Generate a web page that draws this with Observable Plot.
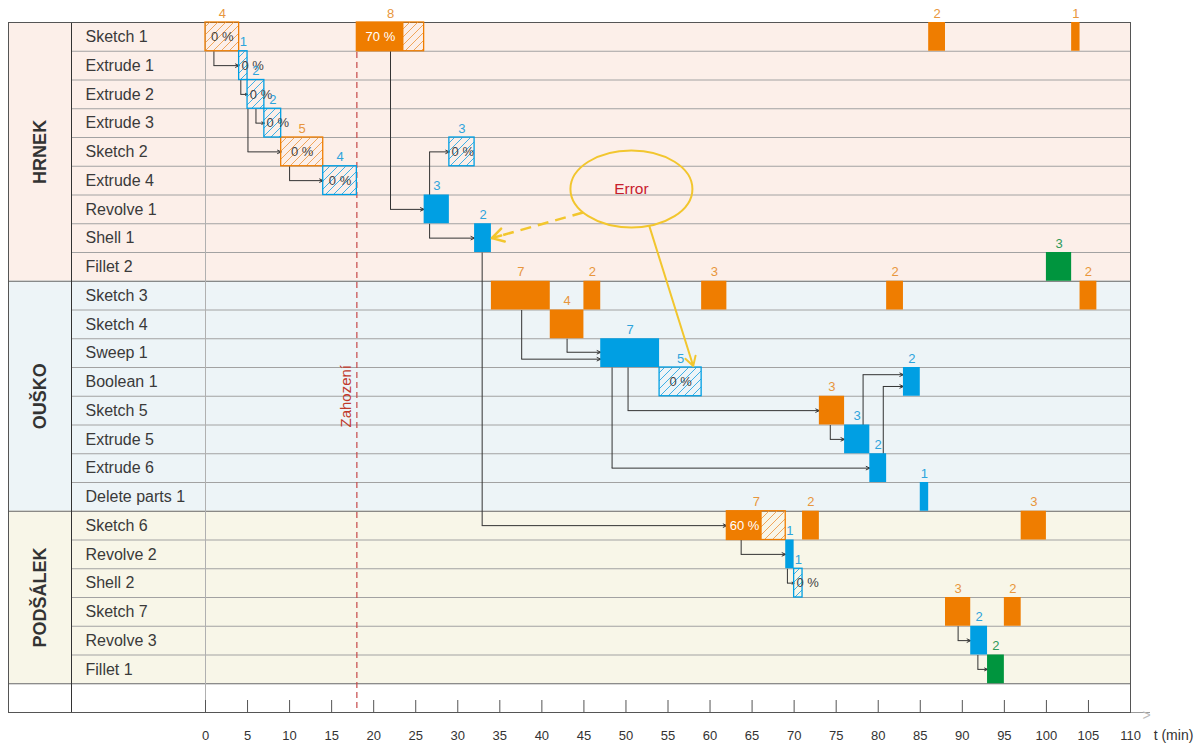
<!DOCTYPE html>
<html>
<head>
<meta charset="utf-8">
<script src="https://cdn.jsdelivr.net/npm/d3@7"></script>
<script src="https://cdn.jsdelivr.net/npm/@observablehq/plot@0.6"></script>
<style>
  body { margin: 0; background: #fff; }
  #chart svg { display: block; }
</style>
</head>
<body>
<div id="chart"></div>
<script>
// ---- categories ----
const ops = ["Sketch 1","Extrude 1","Extrude 2","Extrude 3","Sketch 2","Extrude 4","Revolve 1","Shell 1","Fillet 2",
  "Sketch 3","Sketch 4","Sweep 1","Boolean 1","Sketch 5","Extrude 5","Extrude 6","Delete parts 1",
  "Sketch 6","Revolve 2","Shell 2","Sketch 7","Revolve 3","Fillet 1"];
const groupNames = ["HRNEK","OUŠKO","PODŠÁLEK"];
const groupSizes = [9, 8, 6];

// ---- bars (minutes) ----
const barOp = ["Sketch 1","Sketch 1","Sketch 1","Sketch 1","Extrude 1","Extrude 2","Extrude 3","Sketch 2","Sketch 2","Extrude 4",
  "Revolve 1","Shell 1","Fillet 2","Sketch 3","Sketch 3","Sketch 3","Sketch 3","Sketch 3","Sketch 4","Sweep 1",
  "Boolean 1","Boolean 1","Sketch 5","Extrude 5","Extrude 6","Delete parts 1","Sketch 6","Sketch 6","Sketch 6",
  "Revolve 2","Shell 2","Sketch 7","Sketch 7","Revolve 3","Fillet 1"];
const barStart = [0,18,86,103,4,5,7,9,29,14, 26,32,100,34,45,59,81,104,41,47, 54,83,73,76,79,85,62,71,97, 69,70,88,95,91,93];
const barDur   = [4,8,2,1,1,2,2,5,3,4, 3,2,3,7,2,3,2,2,4,7, 5,2,3,3,2,1,7,2,3, 1,1,3,2,2,2];
const barKind  = ["s","s","s","s","f","f","f","s","f","f", "f","f","g","s","s","s","s","s","s","f",
  "f","f","s","f","f","f","s","s","s", "f","f","s","s","f","g"];
const barDone  = [0,0.7,1,1,0,0,0,0,0,0, 1,1,1,1,1,1,1,1,1,1, 0,1,1,1,1,1,0.6,1,1, 1,0,1,1,1,1];

// ---- dependency arrows ----
const linkFrom = ["Sketch 1","Extrude 1","Extrude 2","Extrude 2","Sketch 2","Sketch 1","Revolve 1","Revolve 1","Shell 1","Sketch 3",
  "Sketch 4","Sweep 1","Sweep 1","Sketch 5","Extrude 5","Extrude 6","Sketch 6","Revolve 2","Sketch 7","Revolve 3"];
const linkAt   = [1.0,4.2,6.0,5.05,10.0,22.0,26.65,26.65,32.9,37.6, 43.0,48.35,50.25,74.3,78.2,80.6,63.7,69.2,89.5,91.85];
const linkTo   = ["Extrude 1","Extrude 2","Extrude 3","Sketch 2","Extrude 4","Revolve 1","Shell 1","Sketch 2","Sketch 6","Sweep 1",
  "Sweep 1","Extrude 6","Sketch 5","Extrude 5","Boolean 1","Boolean 1","Revolve 2","Shell 2","Revolve 3","Fillet 1"];
const linkEnd  = [4,5,7,9,14,26,32,29,62,47, 47,79,73,76,83,83,69,70,91,93];
const linkShift= [0,0,0,0,0,0,0,0,0,0.21, -0.03,0,0,0,-0.25,0.16,0,0,0,0];

// ---- axis ----
const xTicks = [0,5,10,15,20,25,30,35,40,45,50,55,60,65,70,75,80,85,90,95,100,105,110];
const xTitle = "t (min)";

// ---- annotations ----
const discardT = [18];
const discardLabel = "Zahození";
const errorText = "Error";
const errorCenter = [{x: 50.65, y: 5.79}];
const errorDashed = [{x1: 44.9, y1: 6.61, x2: 34.05, y2: 7.5}];
const errorSolid = [{x1: 52.8, y1: 7.1, x2: 58.0, y2: 11.95}];

// ---- styles ----
const FONT = "'Liberation Sans', Arial, sans-serif";
const groupFill = ["#fcefe9", "#edf4f7", "#f8f6e8"];
const barColor = {s: "#ef7d00", f: "#009fe3", g: "#00953e"};
const hatchColor = {s: "#f0a55a", f: "#3eb0e6", g: "#3aa866"};
const labelColor = {s: "#e8963c", f: "#2ea4dc", g: "#2f9a58"};
const hatchId = {s: "hatch-s", f: "hatch-f", g: "hatch-g"};

// ---- derived tables ----
const rowOf = new Map(ops.map((d, i) => [d, i]));
let acc = 0;
const groups = groupNames.map((name, i) => {
  const g = {name, y1: acc, y2: acc + groupSizes[i], fill: groupFill[i]};
  acc += groupSizes[i];
  return g;
});
const nRows = ops.length + 1; // extra empty row
const groupEdges = groups.map(g => g.y2);
const rowEdges = d3.range(1, ops.length).filter(r => !groupEdges.includes(r));

const bars = barOp.map((op, i) => ({
  row: rowOf.get(op), x1: barStart[i], x2: barStart[i] + barDur[i], dur: barDur[i],
  kind: barKind[i], done: barDone[i]
}));
const hatched = bars.filter(b => b.done < 1);
const filled = bars.filter(b => b.done > 0);
const partial = bars.filter(b => b.done > 0 && b.done < 1);
const zero = bars.filter(b => b.done === 0);

const links = linkFrom.map((f, i) => {
  const r0 = rowOf.get(f), r1 = rowOf.get(linkTo[i]);
  return {x: linkAt[i], y0: r1 > r0 ? r0 + 1 : r0, y1: r1 + 0.5 + linkShift[i], x2: linkEnd[i]};
});

function ellipseSymbol(rx, ry) {
  const k = 0.5523;
  return {draw(c) {
    c.moveTo(rx, 0);
    c.bezierCurveTo(rx, ry * k, rx * k, ry, 0, ry);
    c.bezierCurveTo(-rx * k, ry, -rx, ry * k, -rx, 0);
    c.bezierCurveTo(-rx, -ry * k, -rx * k, -ry, 0, -ry);
    c.bezierCurveTo(rx * k, -ry, rx, -ry * k, rx, 0);
    c.closePath();
  }};
}

const svg = Plot.plot({
  width: 1204,
  height: 747,
  marginLeft: 8,
  marginRight: 74,
  marginTop: 22,
  marginBottom: 35,
  style: {fontFamily: FONT, background: "#fff"},
  x: {domain: [0, 110], range: [205, 1130], axis: null},
  y: {domain: [0, nRows], reverse: true, axis: null},
  color: {type: "identity"},
  marks: [
    // backgrounds
    Plot.rect(groups, {y1: "y1", y2: "y2", fill: "fill"}),
    // row lines
    Plot.ruleY(rowEdges, {stroke: "#a2a2a2", strokeWidth: 1, insetLeft: 63}),
    Plot.ruleY(groupEdges, {stroke: "#666", strokeWidth: 1}),
    // column lines
    Plot.ruleX([0], {dx: -134, stroke: "#333", strokeWidth: 1}),
    Plot.ruleX([0], {stroke: "#b0b0b0", strokeWidth: 1}),
    // axis
    Plot.ruleY([nRows], {stroke: "#9a9a9a", insetRight: -20}),
    Plot.text([">"], {frameAnchor: "bottom-right", dx: 16, dy: 3, textAnchor: "middle", lineAnchor: "middle", fill: "#bbb", fontSize: 14, text: d => d}),
    Plot.ruleX(xTicks, {x: d => d, insetTop: 678, stroke: "#555", strokeWidth: 1}),
    Plot.text(xTicks, {x: d => d, frameAnchor: "bottom", lineAnchor: "middle", dy: 23, fontSize: 13, fill: "#333", text: d => String(d)}),
    Plot.text([xTitle], {frameAnchor: "bottom-right", textAnchor: "middle", lineAnchor: "middle", dx: 43, dy: 23, fontSize: 14, fill: "#333", text: d => d}),
    // frame
    Plot.frame({stroke: "#555", strokeWidth: 1}),
    // row and group labels
    Plot.text(ops, {y: (d, i) => i + 0.5, text: d => d, frameAnchor: "left", dx: 77, textAnchor: "start", fontSize: 16, fill: "#3a3a3a"}),
    Plot.text(groups, {y: g => (g.y1 + g.y2) / 2, text: "name", frameAnchor: "left", textAnchor: "middle", dx: 32, rotate: -90, fontSize: 18, fontWeight: "bold", fill: "#333"}),
    // discard line
    Plot.ruleX(discardT, {x: d => d, stroke: "#c64a4a", strokeWidth: 1.2, strokeDasharray: "6,4"}),
    Plot.text(discardT, {x: d => d, y: () => 13, dx: -11, rotate: -90, text: () => discardLabel, fontSize: 15, fill: "#c0392b"}),
    // connectors
    Plot.link(links, {x1: "x", x2: "x", y1: "y0", y2: "y1", stroke: "#333", strokeWidth: 1}),
    Plot.arrow(links, {x1: "x", x2: "x2", y1: "y1", y2: "y1", stroke: "#333", strokeWidth: 1, headLength: 6, headAngle: 50}),
    // hatched bars
    ...["s", "f", "g"].map(k => Plot.rect(hatched.filter(b => b.kind === k), {
      x1: "x1", x2: "x2", y1: "row", y2: b => b.row + 1,
      fill: `url(#${hatchId[k]})`, stroke: barColor[k], strokeWidth: 1.3
    })),
    // filled bars
    Plot.rect(filled, {x1: "x1", x2: b => b.x1 + b.dur * b.done, y1: "row", y2: b => b.row + 1, fill: b => barColor[b.kind]}),
    // percent texts
    Plot.text(zero, {x: b => Math.max((b.x1 + b.x2) / 2, b.x1 + 1.6), y: b => b.row + 0.5, text: () => "0 %", fontSize: 13, fill: "#444"}),
    Plot.text(partial, {x: b => b.x1 + b.dur * b.done / 2, y: b => b.row + 0.5, text: b => `${Math.round(b.done * 100)} %`, fontSize: 13, fill: "#fff"}),
    // duration labels
    Plot.text(bars, {x: b => (b.x1 + b.x2) / 2, y: "row", dy: -9, text: b => String(b.dur), fontSize: 13, fill: b => labelColor[b.kind]}),
    // error annotation
    Plot.dot(errorCenter, {x: "x", y: "y", symbol: ellipseSymbol(61, 38.5), fill: "none", stroke: "#f2c62e", strokeWidth: 2}),
    Plot.text(errorCenter, {x: "x", y: "y", text: () => errorText, fontSize: 15.5, fill: "#c8202e"}),
    Plot.link(errorDashed, {x1: "x1", y1: "y1", x2: "x2", y2: "y2", stroke: "#f2c62e", strokeWidth: 2.5, strokeDasharray: "11,7"}),
    Plot.arrow(errorDashed, {x1: "x1", y1: "y1", x2: "x2", y2: "y2", stroke: "#f2c62e", strokeWidth: 2.5, headLength: 8, insetStart: 85}),
    Plot.arrow(errorSolid, {x1: "x1", y1: "y1", x2: "x2", y2: "y2", stroke: "#f2c62e", strokeWidth: 2, headLength: 8})
  ]
});

// hatch patterns
const defs = d3.select(svg).insert("defs", ":first-child");
for (const k of ["s", "f", "g"]) {
  const p = defs.append("pattern").attr("id", hatchId[k]).attr("patternUnits", "userSpaceOnUse")
    .attr("width", 8).attr("height", 8);
  p.append("path").attr("d", "M-1,1 L1,-1 M0,8 L8,0 M7,9 L9,7")
    .attr("stroke", hatchColor[k]).attr("stroke-width", 1).attr("fill", "none");
}
document.getElementById("chart").appendChild(svg);
</script>
</body>
</html>
